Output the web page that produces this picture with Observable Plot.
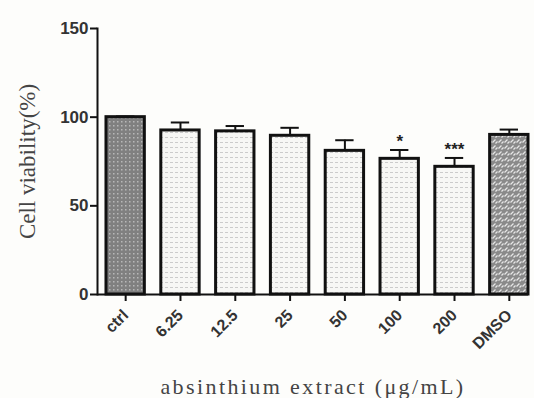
<!DOCTYPE html>
<html>
<head>
<meta charset="utf-8">
<script src="https://cdn.jsdelivr.net/npm/d3@7"></script>
<script src="https://cdn.jsdelivr.net/npm/@observablehq/plot@0.6"></script>
<style>
  html, body { margin: 0; padding: 0; background: #fdfdfb; }
  #chart { width: 534px; height: 398px; }
</style>
</head>
<body>
<div id="chart"></div>
<script>
const categories = ["ctrl", "6.25", "12.5", "25", "50", "100", "200", "DMSO"];
const viability = [100, 92.5, 92, 89.5, 81, 76.5, 72, 90];
const sem = [0.4, 4.5, 3, 4.5, 6, 5, 5, 3];
const significance = ["", "", "", "", "", "*", "***", ""];
const yTicks = [0, 50, 100, 150];
const xTitle = "absinthium extract (μg/mL)";
const yTitle = "Cell viability(%)";

const data = categories.map((c, i) => ({
  cat: c, v: viability[i], e: sem[i], top: viability[i] + sem[i], sig: significance[i]
}));

const sans = "Liberation Sans, Arial, sans-serif";
const serif = "Liberation Serif, Times New Roman, serif";

const plot = Plot.plot({
  width: 534,
  height: 398,
  marginTop: 28,
  marginBottom: 104,
  marginLeft: 97,
  marginRight: 6,
  style: { background: "#fdfdfb", overflow: "visible" },
  x: { domain: categories, paddingInner: 0.3, paddingOuter: 0.082, align: 1, round: false, label: null },
  y: { domain: [0, 150], label: null },
  marks: [
    Plot.barY(data.filter(d => d.cat === "ctrl"), { x: "cat", y: "v", fill: "url(#pat-ctrl)", stroke: "#111", strokeWidth: 3 }),
    Plot.barY(data.filter(d => d.cat !== "ctrl" && d.cat !== "DMSO"), { x: "cat", y: "v", fill: "url(#pat-dose)", stroke: "#111", strokeWidth: 3 }),
    Plot.barY(data.filter(d => d.cat === "DMSO"), { x: "cat", y: "v", fill: "url(#pat-dmso)", stroke: "#111", strokeWidth: 3 }),
    Plot.ruleX(data, { x: "cat", y1: "v", y2: "top", stroke: "#111", strokeWidth: 2 }),
    Plot.tickY(data, { x: "cat", y: "top", stroke: "#111", strokeWidth: 2, insetLeft: 10, insetRight: 10 }),
    Plot.text(data, { x: "cat", y: "top", text: "sig", dy: -8, fontSize: 17, fontWeight: "bold", fill: "#222", fontFamily: sans }),
    Plot.ruleY([0], { stroke: "#111", strokeWidth: 2 }),
    Plot.frame({ anchor: "left", stroke: "#111", strokeWidth: 2 }),
    Plot.axisY({ ticks: yTicks, tickSize: 7, tickPadding: 2, fontSize: 17, fontWeight: "bold", fill: "#333", stroke: "#111", strokeWidth: 2, label: null, fontFamily: sans }),
    Plot.axisX({ tickSize: 7, tickRotate: -45, tickPadding: 11, fontSize: 16, fontWeight: "bold", fill: "#333", stroke: "#111", strokeWidth: 2, label: null, fontFamily: sans }),
    Plot.text([xTitle], { frameAnchor: "bottom", lineAnchor: "bottom", textAnchor: "middle", dy: 99, fontSize: 22, fill: "#444", fontFamily: serif }),
    Plot.text([yTitle], { frameAnchor: "left", textAnchor: "middle", rotate: -90, dx: -70, dy: 0, fontSize: 23, fill: "#444", fontFamily: serif })
  ]
});

// widen the x title to match the stretched original
d3.select(plot).selectAll("text").filter(function () { return this.textContent === xTitle; })
  .style("letter-spacing", "2.4px");

// pattern fills
const ns = "http://www.w3.org/2000/svg";
const defs = document.createElementNS(ns, "defs");
defs.innerHTML = `
  <pattern id="pat-ctrl" patternUnits="userSpaceOnUse" width="4" height="4">
    <rect width="4" height="4" fill="#808080"/>
    <rect x="1" y="1" width="1.5" height="1.5" fill="#b8b8b8"/>
  </pattern>
  <pattern id="pat-dose" patternUnits="userSpaceOnUse" width="5" height="5">
    <rect width="5" height="5" fill="#f7f7f5"/>
    <rect x="0" y="2" width="3" height="1" fill="#cbcbcb"/>
  </pattern>
  <pattern id="pat-dmso" patternUnits="userSpaceOnUse" width="6" height="6">
    <rect width="6" height="6" fill="#8a8a8a"/>
    <path d="M0.5,4.5 L3.5,1.5 M3.5,5.5 L5.5,3.5" stroke="#e6e6e6" stroke-width="1.3"/>
  </pattern>`;
plot.insertBefore(defs, plot.firstChild);
document.getElementById("chart").appendChild(plot);
</script>
</body>
</html>
